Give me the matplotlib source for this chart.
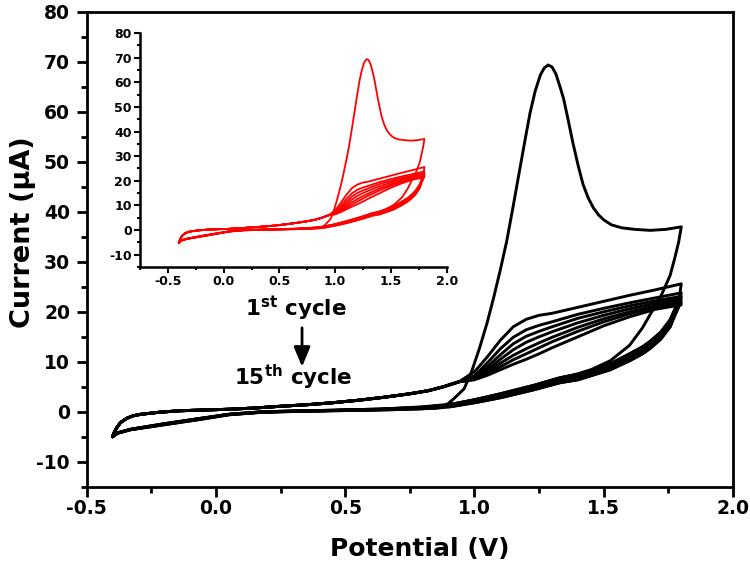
import matplotlib
matplotlib.use('Agg')
import matplotlib.pyplot as plt
from matplotlib.ticker import MultipleLocator

plt.rcParams['font.family'] = ['DejaVu Sans']
plt.rcParams['axes.unicode_minus'] = False
plt.rcParams['mathtext.fontset'] = 'dejavusans'

# ---------------- data (potential in V, current in µA) ----------------
# first cycle, forward (positive-going) scan
E_c1_fwd = [0.20, 0.40, 0.60, 0.75, 0.85, 0.87, 0.89, 0.92, 0.96, 0.99, 1.02, 1.05,
            1.075, 1.10, 1.125, 1.15, 1.17, 1.195, 1.215, 1.235, 1.255, 1.27, 1.285,
            1.30, 1.315, 1.33, 1.345, 1.36, 1.38, 1.40, 1.42, 1.44, 1.46, 1.48, 1.50,
            1.53, 1.57, 1.62, 1.68, 1.74, 1.80]
I_c1_fwd = [0.0, 0.2, 0.4, 0.6, 0.7, 0.8, 1.3, 2.6, 4.6, 8.2, 12.8, 18.0,
            23.0, 28.4, 34.2, 41.2, 47.0, 54.2, 59.8, 64.2, 67.4, 68.8, 69.4,
            69.0, 67.6, 65.2, 62.6, 59.0, 54.0, 49.5, 45.5, 42.8, 40.8, 39.4, 38.4,
            37.4, 36.8, 36.5, 36.3, 36.5, 37.0]

# forward scan of later cycles, low-potential part (common)
E_fwd_low = [-0.40, -0.395, -0.385, -0.37, -0.345, -0.32, -0.29, -0.22, -0.14, -0.05,
             0.05, 0.15, 0.25, 0.35, 0.45, 0.55, 0.65, 0.75, 0.82, 0.88, 0.94]
I_fwd_low = [-5.0, -4.3, -3.3, -2.2, -1.3, -0.8, -0.5, -0.1, 0.2, 0.35,
             0.5, 0.75, 1.1, 1.4, 1.8, 2.3, 2.9, 3.6, 4.2, 5.0, 6.0]

# forward scan of later cycles, high-potential part
E_fwd_high = [1.00, 1.05, 1.10, 1.15, 1.20, 1.25, 1.30, 1.40, 1.50, 1.60, 1.70, 1.80]
I_c2_high = [8.0, 11.0, 14.3, 17.0, 18.5, 19.3, 19.7, 20.9, 22.1, 23.3, 24.4, 25.6]
I_c3_high = [7.2, 9.8, 12.6, 14.9, 16.4, 17.3, 18.0, 19.5, 20.7, 21.8, 22.8, 23.8]
I_c4_high = [6.9, 9.0, 11.4, 13.6, 15.1, 16.1, 17.0, 18.7, 20.0, 21.2, 22.2, 23.1]
I_c6_high = [6.7, 8.4, 10.5, 12.4, 13.9, 15.0, 16.0, 17.8, 19.3, 20.6, 21.7, 22.7]
I_c9_high = [6.6, 8.0, 9.7, 11.3, 12.6, 13.8, 14.9, 16.9, 18.6, 20.0, 21.2, 22.2]
I_c12_high = [6.5, 7.6, 9.0, 10.4, 11.6, 12.8, 14.0, 16.1, 18.0, 19.6, 20.9, 21.8]
I_c15_high = [6.4, 7.3, 8.4, 9.5, 10.5, 11.6, 12.8, 15.0, 17.2, 19.0, 20.5, 21.4]

# reverse (negative-going) scans
E_rev = [1.79, 1.775, 1.757, 1.72, 1.68, 1.65, 1.60, 1.525, 1.45, 1.40, 1.33, 1.23,
         1.10, 1.00, 0.906, 0.80, 0.635, 0.45, 0.30, 0.18, 0.05, -0.07, -0.20,
         -0.33, -0.38, -0.40]
I_rev_c1 = [34.0, 30.8, 27.3, 23.0, 19.5, 16.8, 13.3, 10.2, 8.4, 7.6, 6.7, 5.2,
            3.4, 2.4, 1.5, 1.0, 0.5, 0.3, 0.15, 0.0, -0.5, -1.4, -2.4, -3.5, -4.2, -5.0]
I_rev_low = [21.0, 19.3, 17.0, 14.5, 12.7, 11.6, 10.2, 8.4, 7.2, 6.4, 5.8, 4.4,
             2.8, 1.8, 1.0, 0.6, 0.35, 0.2, 0.05, -0.1, -0.6, -1.6, -2.6, -3.6, -4.3, -5.0]
I_rev_mid = [21.5, 19.9, 17.7, 15.2, 13.4, 12.3, 10.9, 9.0, 7.8, 7.0, 6.3, 4.9,
             3.2, 2.1, 1.2, 0.75, 0.45, 0.25, 0.1, -0.05, -0.55, -1.5, -2.5, -3.55, -4.25, -5.0]
I_rev_high = [22.0, 20.5, 18.4, 15.9, 14.1, 13.0, 11.6, 9.6, 8.3, 7.5, 6.8, 5.3,
              3.6, 2.4, 1.4, 0.9, 0.55, 0.3, 0.15, 0.0, -0.5, -1.4, -2.4, -3.5, -4.2, -5.0]

x_ticks = [-0.5, 0.0, 0.5, 1.0, 1.5, 2.0]
y_ticks = [-10, 0, 10, 20, 30, 40, 50, 60, 70, 80]

# ---------------- assemble cycles ----------------
cycles = [(E_c1_fwd + E_rev, I_c1_fwd + I_rev_c1)]
for hi, rev in [(I_c2_high, I_rev_high), (I_c3_high, I_rev_mid), (I_c4_high, I_rev_low),
                (I_c6_high, I_rev_high), (I_c9_high, I_rev_mid), (I_c12_high, I_rev_low),
                (I_c15_high, I_rev_mid)]:
    cycles.append((E_fwd_low + E_fwd_high + E_rev, I_fwd_low + hi + rev))

fig = plt.figure(figsize=(7.5, 5.68), dpi=100)

# ---------------- main axes ----------------
ax = fig.add_axes([0.1156, 0.1431, 0.8617, 0.8358])
for E, I in cycles:
    ax.plot(E, I, color='black', lw=2.1, solid_joinstyle='round', solid_capstyle='round')

ax.set_xlim(-0.5, 2.0)
ax.set_ylim(-15, 80)
ax.set_xticks(x_ticks)
ax.set_yticks(y_ticks)
ax.xaxis.set_minor_locator(MultipleLocator(0.25))
ax.yaxis.set_minor_locator(MultipleLocator(5))
ax.tick_params(which='both', direction='out', top=False, right=False, width=2)
ax.tick_params(which='major', length=7)
ax.tick_params(which='minor', length=4)
ax.tick_params(axis='y', which='major', pad=5)
ax.tick_params(axis='x', which='major', pad=2)
for lab in ax.get_xticklabels() + ax.get_yticklabels():
    lab.set_fontweight('bold')
    lab.set_fontsize(13.5)
for sp in ax.spines.values():
    sp.set_linewidth(2.0)

ax.set_xlabel('Potential (V)', fontsize=18, fontweight='bold')
ax.set_ylabel('Current (\u00b5A)', fontsize=19.5, fontweight='bold')
ax.xaxis.set_label_coords(0.515, -0.105)
ax.yaxis.set_label_coords(-0.078, 0.537)

ax.text(0.310, 19.1, r'1$^{\mathbf{st}}$ cycle', fontsize=15.5, fontweight='bold',
        ha='center', va='baseline')
ax.text(0.298, 5.4, r'15$^{\mathbf{th}}$ cycle', fontsize=15.5, fontweight='bold',
        ha='center', va='baseline')
ax.annotate('', xy=(0.333, 9.0), xytext=(0.333, 16.8),
            arrowprops=dict(arrowstyle='-|>,head_length=0.6,head_width=0.25',
                            lw=2, color='black', mutation_scale=20,
                            shrinkA=0, shrinkB=0))

# ---------------- inset ----------------
axi = fig.add_axes([0.1867, 0.5299, 0.4089, 0.4120])
for E, I in cycles:
    axi.plot(E, I, color='red', lw=1.3, solid_joinstyle='round')
axi.set_xlim(-0.75, 2.0)
axi.set_ylim(-15, 80)
axi.set_xticks(x_ticks)
axi.set_yticks(y_ticks)
axi.xaxis.set_minor_locator(MultipleLocator(0.25))
axi.yaxis.set_minor_locator(MultipleLocator(5))
axi.spines['top'].set_visible(False)
axi.spines['right'].set_visible(False)
for sp in ['left', 'bottom']:
    axi.spines[sp].set_linewidth(1.8)
axi.tick_params(which='both', direction='out', top=False, right=False, width=1.5, pad=2)
axi.tick_params(which='major', length=4)
axi.tick_params(which='minor', length=2.5)
for lab in axi.get_xticklabels() + axi.get_yticklabels():
    lab.set_fontweight('bold')
    lab.set_fontsize(9)
axi.patch.set_alpha(0)

fig.savefig('out.png', dpi=100)
